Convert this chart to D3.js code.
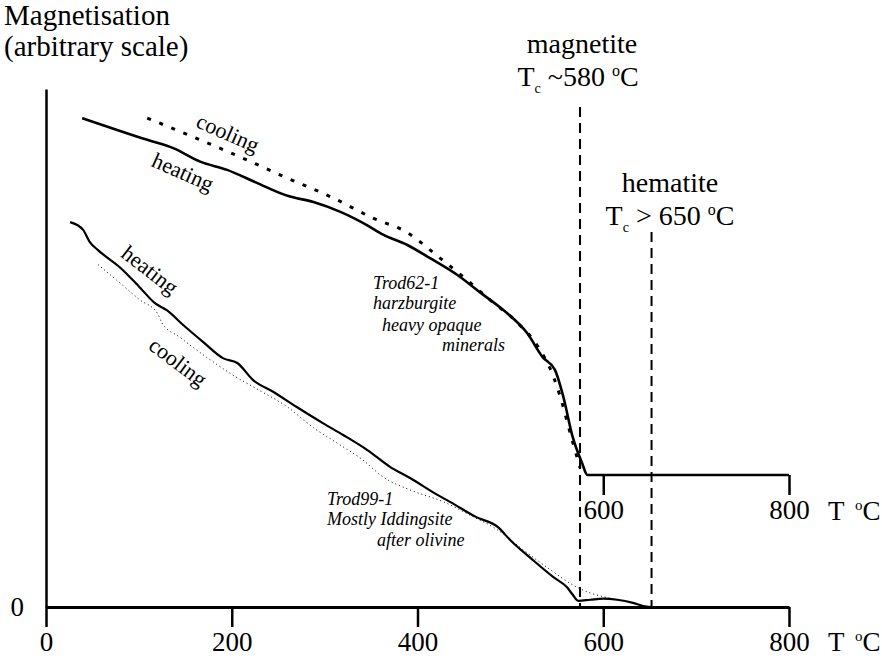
<!DOCTYPE html>
<html>
<head>
<meta charset="utf-8">
<script src="https://cdn.jsdelivr.net/npm/d3@7"></script>
<style>
  body { margin: 0; background: #fff; }
  text { font-family: "Liberation Serif", "Times New Roman", serif; fill: #000; }
</style>
</head>
<body>
<div id="chart"></div>
<script>
// data (T in degC, magnetisation in arbitrary units)
var xTicks = [0, 200, 400, 600, 800];
var insetTicks = [600, 800];
var curieTemps = [575, 652];

// Trod62-1 (drawn on the raised inset baseline)
var t62Heat = [[39,68.9],[109,64.7],[137,63.1],[166,60.5],[195,58.9],[227,56.4],[260,53.9],[288,52.7],
  [317,50.8],[346,48.2],[363,46.4],[389,44.4],[414,41.8],[443,38.6],[467,35.3],[492,31.9],[518,27.4],
  [535,22.7],[548,20.3],[557,15.1],[567,7.4],[577,2.4],[583,0],[800,0]];
var t62Cool = [[109,68.9],[158,65.3],[209,61.4],[260,57.3],[309,53.5],[352,49.6],[389,46.8],[422,42.2],
  [451,38.0],[478,33.8],[507,29.5],[530,24.7],[547,18.7],[553,15.5],[567,6.4],[575,1.4]];

// Trod99-1
var t99Heat = [[26,74.3],[40,72.8],[47,70.5],[56,68.9],[80,65.5],[101,61.7],[117,58.7],[130,57.3],
  [148,54.4],[169,51.2],[191,48.0],[206,47.1],[223,43.8],[244,41.6],[270,38.6],[298,35.5],[320,33.2],
  [346,30.3],[370,27.1],[392,24.9],[421,21.7],[435,20.3],[464,17.3],[486,15.5],[500,12.9],[524,9.1],
  [546,5.8],[561,3.8],[567,2.4],[573,1.2],[586,1.4],[600,1.6],[615,1.4],[632,0.8],[643,0.2],[654,0],[704,0]];
var t99Cool = [[56,66.1],[80,62.5],[101,59.3],[120,56.7],[125,54.8],[144,52.1],[173,48.2],[201,44.8],
  [230,41.8],[260,38.6],[288,34.6],[313,31.7],[341,28.4],[363,25.1],[392,22.6],[428,20.3],[457,17.7],
  [486,14.9],[514,11.0],[543,7.2],[564,4.6],[583,2.9],[600,2.0],[615,1.4]];

var svgWidth = 882;
var svgHeight = 658;

var svg = d3.select('#chart')
    .append('svg')
    .attr('width', svgWidth)
    .attr('height', svgHeight);

// scales
var x = d3.scaleLinear().domain([0, 800]).range([46, 789]);
var y = d3.scaleLinear().domain([0, 100]).range([607, 89]);
var yInset = d3.scaleLinear().domain([0, 100]).range([475, 475 - 518]);

// axes
var bottomAxis = d3.axisBottom(x).tickValues(xTicks).tickSize(20).tickSizeOuter(0).tickPadding(5);
var gx = svg.append('g')
    .attr('transform', `translate(0,${y(0)})`)
    .call(bottomAxis);
gx.select('.domain').attr('stroke-width', 3);
gx.selectAll('.tick line').attr('stroke-width', 2.5);
gx.selectAll('.tick text').style('font-size', '27px').style('font-family', '"Liberation Serif", serif');

var insetAxis = d3.axisBottom(x).tickValues(insetTicks).tickSize(20).tickPadding(5);
var gi = svg.append('g')
    .attr('transform', `translate(0,${yInset(0)})`)
    .call(insetAxis);
gi.select('.domain').remove();
gi.selectAll('.tick line').attr('stroke-width', 2.5);
gi.selectAll('.tick text').style('font-size', '27px').style('font-family', '"Liberation Serif", serif');

var leftAxis = d3.axisLeft(y).tickValues([0]).tickSize(0).tickSizeOuter(0).tickPadding(22);
var gy = svg.append('g')
    .attr('transform', `translate(${x(0)},0)`)
    .call(leftAxis);
gy.select('.domain').attr('stroke-width', 2.5);
gy.selectAll('.tick text').style('font-size', '27px').style('font-family', '"Liberation Serif", serif');

// T °C unit labels
function unitLabel(yy) {
    var t = svg.append('text').attr('x', 828).attr('y', yy).style('font-size', '27px');
    t.append('tspan').text('T');
    t.append('tspan').attr('x', 855).attr('dy', -10).style('font-size', '15px').text('o');
    t.append('tspan').attr('dy', 10).text('C');
}
unitLabel(520);
unitLabel(651);

// curie temperature dashed lines
var curieTops = [107, 232];
svg.selectAll('.curie')
    .data(curieTemps)
    .enter()
    .append('line')
    .attr('class', 'curie')
    .attr('x1', d => x(d)).attr('x2', d => x(d))
    .attr('y1', (d, i) => curieTops[i])
    .attr('y2', y(0))
    .attr('stroke', '#000')
    .attr('stroke-width', 2)
    .attr('stroke-dasharray', '10,6');

// curves
var lineLow = d3.line().x(d => x(d[0])).y(d => y(d[1])).curve(d3.curveMonotoneX);
var lineTop = d3.line().x(d => x(d[0])).y(d => yInset(d[1])).curve(d3.curveMonotoneX);

svg.append('path').datum(t99Cool)
    .attr('d', lineLow).attr('fill', 'none').attr('stroke', '#000')
    .attr('stroke-width', 1).attr('stroke-dasharray', '1,3');
svg.append('path').datum(t99Heat)
    .attr('d', lineLow).attr('fill', 'none').attr('stroke', '#000').attr('stroke-width', 2.2);

svg.append('path').datum(t62Cool)
    .attr('d', lineTop).attr('fill', 'none').attr('stroke', '#000')
    .attr('stroke-width', 3).attr('stroke-dasharray', '4,9');
svg.append('path').datum(t62Heat)
    .attr('d', lineTop).attr('fill', 'none').attr('stroke', '#000').attr('stroke-width', 2.6);

// title
svg.append('text').attr('x', 4).attr('y', 25).style('font-size', '29px').text('Magnetisation');
svg.append('text').attr('x', 4).attr('y', 56).style('font-size', '29px').text('(arbitrary scale)');

// mineral labels
function tcLabel(cx, yy, rest) {
    var t = svg.append('text').attr('x', cx).attr('y', yy).attr('text-anchor', 'middle').style('font-size', '28px');
    t.append('tspan').text('T');
    t.append('tspan').attr('dy', 7).style('font-size', '14px').text('c');
    t.append('tspan').attr('dy', -7).text(' ' + rest + ' ');
    t.append('tspan').attr('dy', -10).style('font-size', '16px').text('o');
    t.append('tspan').attr('dy', 10).text('C');
}
svg.append('text').attr('x', 582).attr('y', 53).attr('text-anchor', 'middle').style('font-size', '28px').text('magnetite');
tcLabel(578, 86, '~580');
svg.append('text').attr('x', 670).attr('y', 192).attr('text-anchor', 'middle').style('font-size', '28px').text('hematite');
tcLabel(670, 225, '> 650');

// curve labels
var curveLabels = [
    {text: 'cooling', cx: 228, cy: 133, a: 24},
    {text: 'heating', cx: 183, cy: 172, a: 24},
    {text: 'heating', cx: 150, cy: 270, a: 38},
    {text: 'cooling', cx: 178, cy: 362, a: 37}
];
svg.selectAll('.curveLabel')
    .data(curveLabels)
    .enter()
    .append('text')
    .attr('class', 'curveLabel')
    .attr('transform', d => `translate(${d.cx},${d.cy}) rotate(${d.a})`)
    .attr('text-anchor', 'middle')
    .attr('dominant-baseline', 'central')
    .style('font-size', '22px')
    .text(d => d.text);

// sample notes
var notes = [
    {text: 'Trod62-1', x: 373, y: 289},
    {text: 'harzburgite', x: 373, y: 309},
    {text: 'heavy opaque', x: 382, y: 331},
    {text: 'minerals', x: 442, y: 351},
    {text: 'Trod99-1', x: 327, y: 505},
    {text: 'Mostly Iddingsite', x: 327, y: 525},
    {text: 'after olivine', x: 377, y: 546}
];
svg.selectAll('.note')
    .data(notes)
    .enter()
    .append('text')
    .attr('class', 'note')
    .attr('x', d => d.x)
    .attr('y', d => d.y)
    .style('font-size', '18px')
    .style('font-style', 'italic')
    .text(d => d.text);
</script>
</body>
</html>
